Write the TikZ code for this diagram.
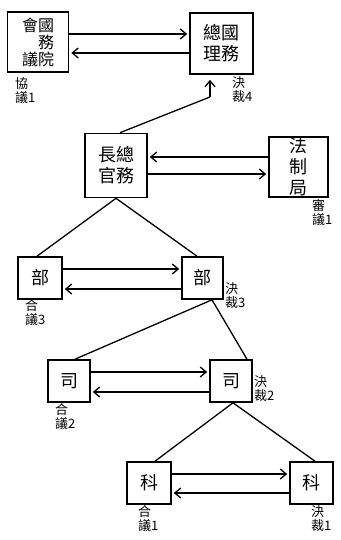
\documentclass[tikz,border=0pt]{standalone}
\usepackage{fontspec}
\newfontfamily\cjk{Noto Sans CJK TC}
\usetikzlibrary{arrows.meta}

\begin{document}
\begin{tikzpicture}[
  x=1pt, y=-1pt,
  box/.style={rectangle, draw=black, line width=1.6pt, inner sep=0pt, align=center, font=\cjk\fontsize{18}{21}\selectfont},
  lbl/.style={anchor=north west, inner sep=0pt, align=left, font=\cjk\fontsize{13}{14}\selectfont},
  arr/.style={-{Straight Barb[length=6pt, width=10pt]}, line width=1.3pt, shorten >=2pt},
  ln/.style={line width=1.3pt}
]
\useasboundingbox (0,0) rectangle (340,540);
\node[box, minimum width=61pt, minimum height=60pt, align=right, font=\cjk\fontsize{16}{17}\selectfont] (b1) at (38,42) {會國\\務\\議院};
\node[box, minimum width=63pt, minimum height=61pt] (b2) at (221.5,43.5) {總國\\理務};
\node[box, minimum width=62pt, minimum height=64pt] (b3) at (116,165.5) {長總\\官務};
\node[box, minimum width=59pt, minimum height=60pt] (b4) at (298.5,167) {法\\制\\局};
\node[box, minimum width=44pt, minimum height=42pt] (b5) at (40,278) {部};
\node[box, minimum width=41pt, minimum height=42pt] (b6) at (202.5,278) {部};
\node[box, minimum width=42pt, minimum height=42pt] (b7) at (69,381) {司};
\node[box, minimum width=42pt, minimum height=42pt] (b8) at (231,381) {司};
\node[box, minimum width=44pt, minimum height=42pt] (b9) at (149,483) {科};
\node[box, minimum width=43pt, minimum height=42pt] (b10) at (311.5,483) {科};
% labels
\node[lbl] (l1) at (15,77) {協\\議1};
\node[lbl] (l2) at (232,76) {決\\裁4};
\node[lbl] (l3) at (312,199) {審\\議1};
\node[lbl] (l4) at (25,299) {合\\議3};
\node[lbl] (l5) at (225,282) {決\\裁3};
\node[lbl] (l6) at (55,403) {合\\議2};
\node[lbl] (l7) at (254,375) {決\\裁2};
\node[lbl] (l8) at (138,505) {合\\議1};
\node[lbl] (l9) at (311,505) {決\\裁1};
% arrows between pairs
\foreach \l/\r/\u/\d in {b1/b2/8/-11, b3/b4/-8.5/8.5, b5/b6/9/-11, b7/b8/9/-11, b9/b10/9/-10} {
  \draw[arr] ([yshift=\u]\l.east) -- ([yshift=\u]\l.east -| \r.west);
  \draw[arr] ([yshift=\d]\l.east -| \r.west) -- ([yshift=\d]\l.east);
}
% tree
\coordinate (j) at (210,97);
\draw[ln] ([xshift=4]b3.north) -- (j);
\draw[arr, shorten >=5pt] (j) -- (j |- b2.south);
\draw[ln] ([xshift=-3]b5.north) -- (b3.south) -- ([xshift=-5.5]b6.north);
\draw[ln] ([xshift=6]b7.north) -- ([xshift=9.5]b6.south) -- ([xshift=16]b8.north);
\draw[ln] ([xshift=6]b9.north) -- ([xshift=2]b8.south) -- ([xshift=3.5]b10.north);
\end{tikzpicture}
\end{document}
